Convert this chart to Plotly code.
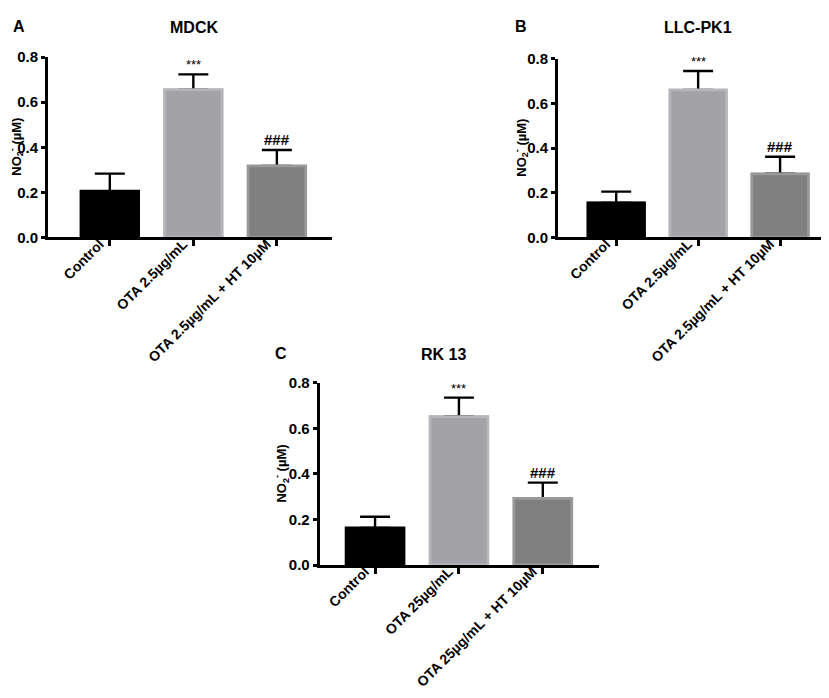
import plotly.graph_objects as go

W, H = 829, 698

categories_ab = ["Control", "OTA 2.5µg/mL", "OTA 2.5µg/mL + HT 10µM"]
categories_c = ["Control", "OTA 25µg/mL", "OTA 25µg/mL + HT 10µM"]

mdck_mean = [0.205, 0.655, 0.317]
mdck_err = [0.078, 0.068, 0.071]

llc_mean = [0.155, 0.660, 0.285]
llc_err = [0.050, 0.085, 0.076]

rk_mean = [0.163, 0.652, 0.293]
rk_err = [0.049, 0.083, 0.069]

marks = ["", "***", "###"]
y_ticks = [0.0, 0.2, 0.4, 0.6, 0.8]

bar_fill = ["#000000", "#a2a2a7", "#808080"]
bar_edge = ["#000000", "#b6b6ba", "#999999"]

FONT = "Liberation Sans, Arial, sans-serif"

# panel boxes in pixels: (left, right, top, bottom), x range, letter pos, title pos, y-title pos
panels = [
    ("MDCK", "A", categories_ab, mdck_mean, mdck_err, (40, 324, 41, 226), [-0.74, 2.66],
     (11, 10), (186, 11), (8, 133)),
    ("LLC-PK1", "B", categories_ab, llc_mean, llc_err, (550, 827, 42.7, 226), [-0.71, 2.67],
     (513, 10), (690, 11), (513, 134)),
    ("RK 13", "C", categories_c, rk_mean, rk_err, (311.7, 591, 375, 561.7), [-0.66, 2.67],
     (273, 345), (435, 346), (273, 468)),
]


def px_x(v):
    return v / W


def px_y(v):
    return 1 - v / H


fig = go.Figure()
layout = dict(
    width=W,
    height=H,
    margin=dict(l=0, r=0, t=0, b=0),
    paper_bgcolor="white",
    plot_bgcolor="white",
    showlegend=False,
    barmode="overlay",
    font=dict(family=FONT, size=12, color="black"),
    annotations=[],
)

for i, (title, letter, cats, mean, err, box, xr, lpos, tpos, ypos) in enumerate(panels):
    n = "" if i == 0 else str(i + 1)
    xa, ya = "x" + n, "y" + n
    # bars with upward error bars
    fig.add_trace(
        go.Bar(
            x=cats,
            y=mean,
            width=0.69,
            marker=dict(color=bar_fill, line=dict(color=bar_edge, width=2)),
            error_y=dict(
                type="data",
                symmetric=False,
                array=err,
                arrayminus=[0] * len(err),
                color="black",
                thickness=2.4,
                width=15,
            ),
            xaxis=xa,
            yaxis=ya,
        )
    )
    # same bars again on top, hiding the lower cap of the error bars
    fig.add_trace(
        go.Bar(
            x=cats,
            y=mean,
            width=0.69,
            marker=dict(color=bar_fill, line=dict(color=bar_edge, width=2.8)),
            xaxis=xa,
            yaxis=ya,
            hoverinfo="skip",
        )
    )
    l, r, t, b = box
    layout["xaxis" + n] = dict(
        domain=[px_x(l), px_x(r)],
        anchor=ya,
        type="category",
        range=xr,
        showline=True,
        linecolor="black",
        linewidth=3,
        ticks="outside",
        ticklen=6,
        tickwidth=3,
        tickcolor="black",
        tickangle=-45,
        ticklabelstandoff=-16,
        ticklabelshift=-10,
        tickfont=dict(family=FONT, size=14, color="black", weight="bold"),
        showgrid=False,
        zeroline=False,
    )
    layout["yaxis" + n] = dict(
        domain=[px_y(b), px_y(t)],
        anchor=xa,
        range=[0, 0.8],
        tickvals=y_ticks,
        ticktext=[f"{v:.1f}" for v in y_ticks],
        showline=True,
        linecolor="black",
        linewidth=3,
        ticks="outside",
        ticklen=4,
        tickwidth=3,
        tickcolor="black",
        tickfont=dict(family=FONT, size=15, color="black", weight="bold"),
        showgrid=False,
        zeroline=False,
    )
    for c, m, e, s in zip(cats, mean, err, marks):
        if s:
            layout["annotations"].append(
                dict(
                    x=c,
                    y=m + e,
                    xref=xa,
                    yref=ya,
                    text=f"<b>{s}</b>" if s == "###" else s,
                    showarrow=False,
                    yanchor="bottom",
                    yshift=0,
                    font=dict(family=FONT, size=15 if s == "###" else 13, color="black"),
                )
            )
    layout["annotations"].append(
        dict(x=px_x(lpos[0]), y=px_y(lpos[1]), xref="paper", yref="paper",
             text=f"<b>{letter}</b>", showarrow=False, xanchor="center", yanchor="middle",
             font=dict(family=FONT, size=16, color="black"))
    )
    layout["annotations"].append(
        dict(x=px_x(tpos[0]), y=px_y(tpos[1]), xref="paper", yref="paper",
             text=f"<b>{title}</b>", showarrow=False, xanchor="center", yanchor="middle",
             font=dict(family=FONT, size=16, color="black"))
    )
    layout["annotations"].append(
        dict(x=px_x(ypos[0]), y=px_y(ypos[1]), xref="paper", yref="paper",
             text="<b>NO<sub>2</sub><sup>-</sup> (µM)</b>", showarrow=False, textangle=-90,
             xanchor="center", yanchor="middle",
             font=dict(family=FONT, size=13, color="black"))
    )

fig.update_layout(**layout)
fig.write_html("out.html")
